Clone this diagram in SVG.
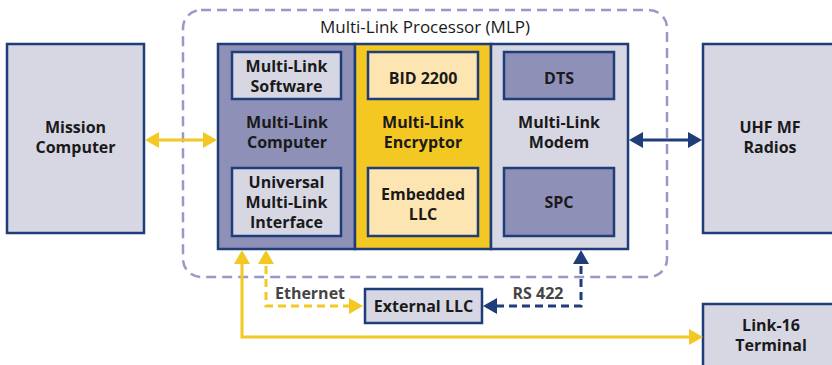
<svg xmlns="http://www.w3.org/2000/svg" width="832" height="365" viewBox="0 0 832 365">
<style>
.box{fill:#d7d7e4;stroke:#1e3d79;stroke-width:2.5}
.pur{fill:#8e90b8;stroke:#1e3d79;stroke-width:2.5}
.yel{fill:#f4c822;stroke:#1e3d79;stroke-width:2.5}
.lyel{fill:#fde5b1;stroke:#1e3d79;stroke-width:2.5}
.t{font-family:"Open Sans","Noto Sans","Liberation Sans",sans-serif;font-weight:bold;font-size:16px;fill:#1a1a1a;text-anchor:middle}
.lbl{font-family:"Open Sans","Noto Sans","Liberation Sans",sans-serif;font-weight:bold;font-size:16px;fill:#454545;text-anchor:middle}
.title{font-family:"Open Sans","Noto Sans","Liberation Sans",sans-serif;font-size:17px;fill:#1a1a1a;text-anchor:middle}
.cy{fill:none;stroke:#f4c822;stroke-width:3}
.cb{fill:none;stroke:#1e3d79;stroke-width:3}
.dash{stroke-dasharray:8,5}
</style>
<defs>
<marker id="ay" markerUnits="userSpaceOnUse" markerWidth="14" markerHeight="16" refX="11" refY="8" orient="auto-start-reverse"><path d="M0,0 L14,8 L0,16 z" fill="#f4c822"/></marker>
<marker id="ab" markerUnits="userSpaceOnUse" markerWidth="14" markerHeight="16" refX="11" refY="8" orient="auto-start-reverse"><path d="M0,0 L14,8 L0,16 z" fill="#1e3d79"/></marker>
</defs>

<g id="mlp-boundary">
<rect x="183" y="10" width="484" height="267" rx="18" fill="none" stroke="#9899c5" stroke-width="2.5" stroke-dasharray="10,6"/>
<text class="title" x="425" y="33">Multi-Link Processor (MLP)</text>
</g>

<g id="mission-computer">
<rect class="box" x="7" y="44" width="137" height="189"/>
<text class="t" x="75.5" y="133">Mission</text>
<text class="t" x="75.5" y="153">Computer</text>
</g>

<g id="multi-link-computer">
<rect class="pur" x="218" y="44" width="137" height="205"/>
<text class="t" x="287" y="128">Multi-Link</text>
<text class="t" x="287" y="148">Computer</text>
</g>
<g id="multi-link-encryptor">
<rect class="yel" x="355" y="44" width="136" height="205"/>
<text class="t" x="423" y="128">Multi-Link</text>
<text class="t" x="423" y="148">Encryptor</text>
</g>
<g id="multi-link-modem">
<rect class="box" x="491" y="44" width="137" height="205"/>
<text class="t" x="559" y="128">Multi-Link</text>
<text class="t" x="559" y="148">Modem</text>
</g>

<g id="multi-link-software">
<rect class="box" x="232" y="52" width="109" height="47"/>
<text class="t" x="286.5" y="71.5">Multi-Link</text>
<text class="t" x="286.5" y="91.5">Software</text>
</g>
<g id="bid-2200">
<rect class="lyel" x="368" y="52" width="110" height="47"/>
<text class="t" x="423" y="83.5">BID 2200</text>
</g>
<g id="dts">
<rect class="pur" x="504" y="52" width="110" height="47"/>
<text class="t" x="559" y="83.5">DTS</text>
</g>
<g id="universal-interface">
<rect class="box" x="232" y="168" width="109" height="68"/>
<text class="t" x="286.5" y="188">Universal</text>
<text class="t" x="286.5" y="208">Multi-Link</text>
<text class="t" x="286.5" y="228">Interface</text>
</g>
<g id="embedded-llc">
<rect class="lyel" x="368" y="168" width="110" height="68"/>
<text class="t" x="423" y="200">Embedded</text>
<text class="t" x="423" y="220">LLC</text>
</g>
<g id="spc">
<rect class="pur" x="504" y="168" width="110" height="68"/>
<text class="t" x="559" y="208">SPC</text>
</g>

<g id="uhf-mf-radios">
<rect class="box" x="703" y="44" width="135" height="189"/>
<text class="t" x="770" y="133">UHF MF</text>
<text class="t" x="770" y="153">Radios</text>
</g>
<g id="link16-terminal">
<rect class="box" x="703" y="304" width="135" height="70"/>
<text class="t" x="771" y="331">Link-16</text>
<text class="t" x="771" y="351">Terminal</text>
</g>
<g id="external-llc">
<rect class="box" x="365" y="289" width="117" height="34"/>
<text class="t" x="423.5" y="311.5">External LLC</text>
</g>

<g id="connectors">
<path class="cy" d="M148,140 H214" marker-start="url(#ay)" marker-end="url(#ay)"/>
<path class="cb" d="M632,140 H699" marker-start="url(#ab)" marker-end="url(#ab)"/>
<path class="cy" d="M242,253 V337 H700" marker-start="url(#ay)" marker-end="url(#ay)"/>
<path class="cy dash" d="M266,253 V306 H360" marker-start="url(#ay)" marker-end="url(#ay)"/>
<path class="cb dash" d="M581,253 V306 H486" marker-start="url(#ab)" marker-end="url(#ab)"/>
<text class="lbl" x="310" y="299">Ethernet</text>
<text class="lbl" x="538" y="299">RS 422</text>
</g>
</svg>
